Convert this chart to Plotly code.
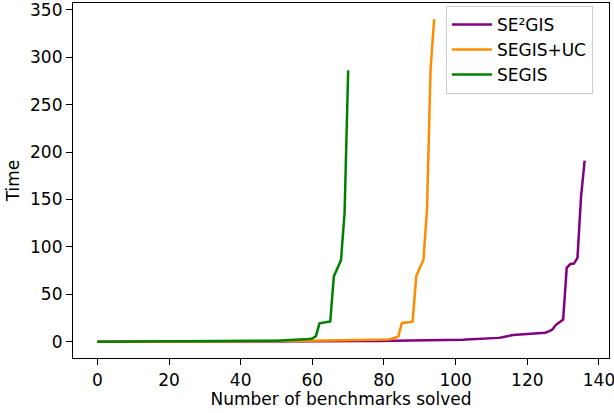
import plotly.graph_objects as go

series_names = ["SE\u00b2GIS", "SEGIS+UC", "SEGIS"]
series_colors = ["purple", "darkorange", "green"]

se2gis_times = [
    0.02, 0.02, 0.03, 0.03, 0.03, 0.04, 0.04, 0.04, 0.05, 0.05,
    0.05, 0.06, 0.06, 0.06, 0.07, 0.07, 0.07, 0.08, 0.08, 0.08,
    0.09, 0.09, 0.1, 0.1, 0.1, 0.11, 0.11, 0.12, 0.12, 0.13,
    0.13, 0.14, 0.14, 0.15, 0.15, 0.16, 0.17, 0.17, 0.18, 0.19,
    0.2, 0.21, 0.22, 0.23, 0.24, 0.25, 0.26, 0.27, 0.28, 0.3,
    0.31, 0.32, 0.34, 0.35, 0.37, 0.38, 0.4, 0.42, 0.44, 0.46,
    0.48, 0.5, 0.52, 0.54, 0.56, 0.58, 0.6, 0.62, 0.64, 0.66,
    0.68, 0.7, 0.72, 0.74, 0.76, 0.78, 0.8, 0.82, 0.85, 0.88,
    0.9, 0.93, 0.95, 0.98, 1.0, 1.03, 1.06, 1.1, 1.13, 1.16,
    1.2, 1.23, 1.26, 1.3, 1.33, 1.37, 1.4, 1.5, 1.65, 1.8,
    1.95, 2.1, 2.25, 2.4, 2.55, 2.7, 2.9, 3.1, 3.3, 3.5,
    3.7, 3.8, 4.2, 4.8, 5.8, 6.5, 7.2, 7.5, 7.8, 8.1,
    8.4, 8.7, 9.0, 9.2, 9.4, 9.6, 11, 13, 18, 21,
    23.5, 78, 82, 82.5, 88.5, 153, 191,
]

segis_uc_times = [
    0.03, 0.03, 0.04, 0.04, 0.05, 0.05, 0.05, 0.06, 0.06, 0.07,
    0.07, 0.08, 0.08, 0.09, 0.09, 0.1, 0.1, 0.11, 0.11, 0.12,
    0.12, 0.13, 0.14, 0.14, 0.15, 0.16, 0.17, 0.18, 0.19, 0.2,
    0.21, 0.22, 0.23, 0.24, 0.25, 0.27, 0.28, 0.3, 0.32, 0.34,
    0.36, 0.38, 0.4, 0.42, 0.45, 0.48, 0.5, 0.53, 0.56, 0.6,
    0.63, 0.66, 0.7, 0.74, 0.78, 0.82, 0.86, 0.9, 0.95, 1.0,
    1.05, 1.1, 1.15, 1.2, 1.25, 1.3, 1.35, 1.4, 1.45, 1.5,
    1.55, 1.6, 1.65, 1.7, 1.75, 1.8, 1.9, 2.0, 2.1, 2.2,
    2.3, 2.5, 3.0, 4.2, 5.5, 20, 20.2, 20.6, 21.5, 69,
    78, 86, 139, 287, 340,
]

segis_times = [
    0.04, 0.05, 0.05, 0.06, 0.06, 0.07, 0.07, 0.08, 0.08, 0.09,
    0.09, 0.1, 0.1, 0.11, 0.12, 0.12, 0.13, 0.14, 0.15, 0.16,
    0.17, 0.18, 0.19, 0.2, 0.21, 0.22, 0.24, 0.25, 0.27, 0.29,
    0.31, 0.33, 0.35, 0.37, 0.4, 0.43, 0.46, 0.5, 0.54, 0.58,
    0.62, 0.67, 0.72, 0.78, 0.84, 0.9, 0.97, 1.05, 1.13, 1.22,
    1.3, 1.4, 1.5, 1.6, 1.75, 1.9, 2.05, 2.2, 2.5, 3.0,
    3.6, 6.0, 19.5, 20, 20.4, 21.5, 69, 78, 86, 136,
    286,
]

x_ticks = [0, 20, 40, 60, 80, 100, 120, 140]
y_ticks = [0, 50, 100, 150, 200, 250, 300, 350]

FONT = "DejaVu Sans"
FS = 17

fig = go.Figure()
for name, color, ys in zip(series_names, series_colors,
                           [se2gis_times, segis_uc_times, segis_times]):
    fig.add_trace(go.Scatter(
        x=list(range(len(ys))), y=ys, mode="lines", name=name,
        line=dict(color=color, width=2.5),
    ))

axis_common = dict(
    showgrid=False, zeroline=False, showline=True, linecolor="black",
    linewidth=1.2, mirror=True, ticks="outside", ticklen=6, tickwidth=1.2,
    tickcolor="black", tickfont=dict(family=FONT, size=FS, color="black"),
    automargin=False, ticklabeloverflow="allow",
)

fig.update_xaxes(range=[-6.8, 142.8], tickvals=x_ticks,
                 title=dict(text="Number of benchmarks solved",
                            font=dict(family=FONT, size=FS, color="black"),
                            standoff=3),
                 **axis_common)
fig.update_yaxes(range=[-17, 357], tickvals=y_ticks,
                 title=dict(text="Time",
                            font=dict(family=FONT, size=FS, color="black"),
                            standoff=6),
                 **axis_common)

fig.update_layout(
    width=614, height=413,
    margin=dict(l=73, r=5, t=3, b=55),
    paper_bgcolor="white", plot_bgcolor="white",
    font=dict(family=FONT, size=FS, color="black"),
    showlegend=True,
    legend=dict(x=0.97, y=0.992, xanchor="right", yanchor="top",
                bgcolor="rgba(255,255,255,0.8)", bordercolor="#cccccc",
                borderwidth=1, font=dict(family=FONT, size=FS, color="black"),
                itemwidth=40),
)

fig.write_html("out.html",
               config={"displayModeBar": False},
               post_script="document.body.style.margin='0';"
                           "document.body.style.overflow='hidden';")
